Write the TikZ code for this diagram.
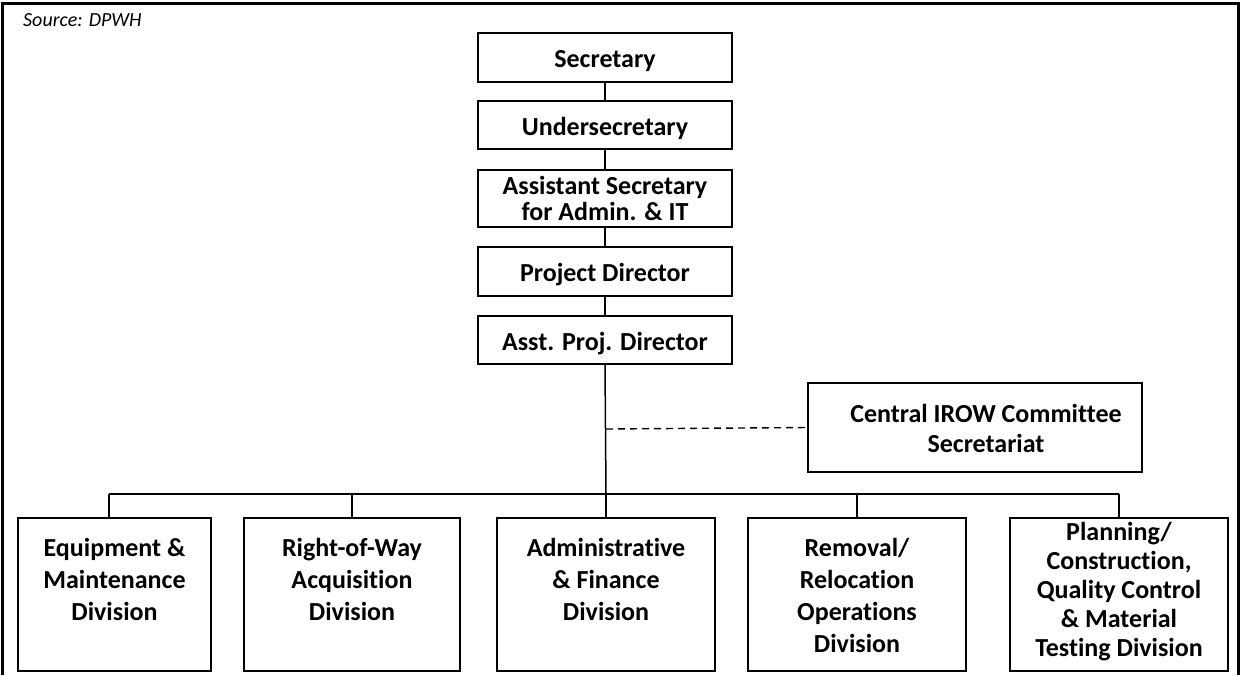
\documentclass[tikz,border=0pt]{standalone}
\usepackage{fontspec}
\setmainfont{Carlito}[Ligatures={NoCommon}]
\begin{document}
\begin{tikzpicture}[x=1pt,y=-1pt,
  box/.style={draw, line width=1.8pt, inner sep=0pt, font=\bfseries\fontsize{26}{26}\selectfont, align=center},
  topbox/.style={box, minimum width=254pt},
  oneline/.style={text height=20pt, text depth=0pt},
  divbox/.style={draw, line width=1.8pt, inner sep=0pt, anchor=north},
  link/.style={line width=1.5pt},
  dotlink/.style={line width=1.4pt, dash pattern=on 7pt off 5pt}]
\useasboundingbox (0,0) rectangle (1241,675);

% outer frame, open at the bottom
\draw[line width=3pt] (2.5,675) -- (2.5,3.5) -- (1238.5,3.5) -- (1238.5,675);

\node[anchor=base west, inner sep=0pt, font=\itshape\fontsize{20}{24}\selectfont] (src) at (23,26) {Source: DPWH};

% chain of command
\node[topbox, oneline, minimum height=49pt] (sec) at (605,57.5) {Secretary};
\node[topbox, oneline, minimum height=48pt] (usec) at (605,125) {Undersecretary};
\node[topbox, minimum height=57pt] (asec) at (605,198.5) {Assistant Secretary\\for Admin. \& IT};
\node[topbox, oneline, minimum height=49pt] (pd) at (605,271.5) {Project Director};
\node[topbox, oneline, minimum height=48pt] (apd) at (605,340) {Asst. Proj. Director};

\draw[link] (sec) -- (usec);
\draw[link] (usec) -- (asec);
\draw[link] (asec) -- (pd);
\draw[link] (pd) -- (apd);

% IROW committee secretariat
\node[draw, line width=1.8pt, minimum width=334pt, minimum height=89pt] (irow) at (975,427.5) {};
\node[font=\bfseries\fontsize{26}{30}\selectfont, align=center] (irowtxt) at (986,428) {Central IROW Committee\\Secretariat};

% divisions
\newcommand\divtext[3]{\parbox[t][153pt][t]{#1}{\centering\fontsize{26}{#2}\bfseries\selectfont #3}}
\node[divbox] (d1) at (114.5,517) {\divtext{193pt}{31.7}{\rule{0pt}{39pt}Equipment \&\\Maintenance\\Division}};
\node[divbox] (d2) at (352,517) {\divtext{216pt}{31.7}{\rule{0pt}{39pt}Right-of-Way\\Acquisition\\Division}};
\node[divbox] (d3) at (606,517) {\divtext{218pt}{31.7}{\rule{0pt}{39pt}Administrative\\\& Finance\\Division}};
\node[divbox] (d4) at (857,517) {\divtext{218pt}{31.7}{\rule{0pt}{39pt}Removal/\\Relocation\\Operations\\Division}};
\node[divbox] (d5) at (1119,517) {\divtext{218pt}{29}{\rule{0pt}{23pt}Planning/\\Construction,\\Quality Control\\\& Material\\Testing Division}};

% bus
\coordinate (b1) at (109,494);
\coordinate (b5) at (1119,494);
\coordinate (hub) at (606,494);
\coordinate (tap) at (606,429);
\draw[link] (apd.south) -- (hub);
\draw[link] (b1) -- (b5);
\draw[link] (b1) -- (b1 |- d1.north);
\draw[link] (hub -| d2.north) -- (d2.north);
\draw[link] (hub) -- (d3.north);
\draw[link] (hub -| d4.north) -- (d4.north);
\draw[link] (b5) -- (d5.north);
\draw[dotlink] (tap) -- (irow.west);
\end{tikzpicture}
\end{document}
